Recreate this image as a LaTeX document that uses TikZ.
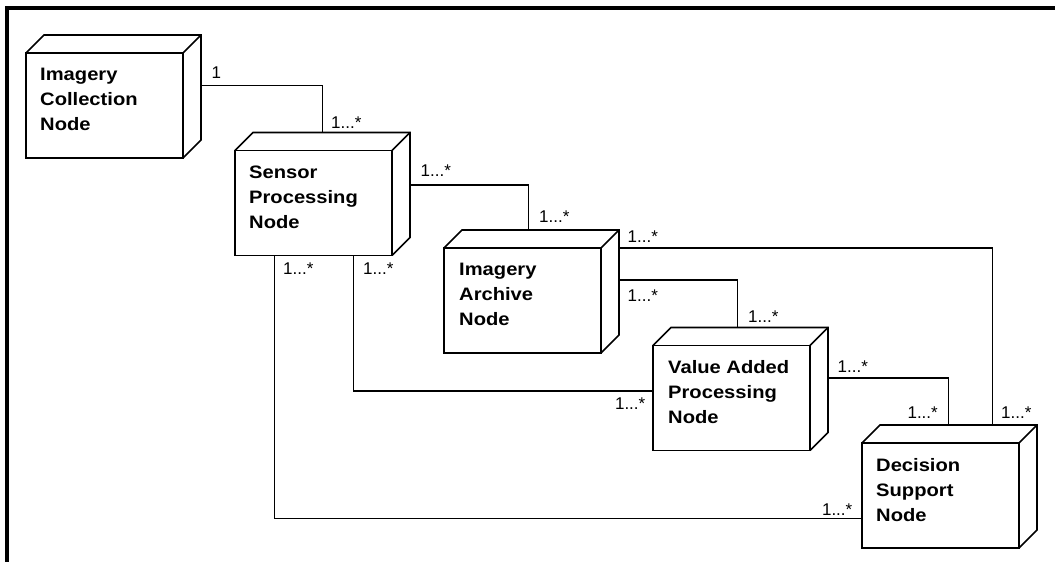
\documentclass[tikz,border=0pt]{standalone}
\usepackage{fontspec}
\setmainfont{Liberation Sans}
\newfontfamily\boxfont[FakeStretch=1.12]{Liberation Sans}
\usetikzlibrary{positioning}
% depth faces of a UML node box
\newcommand{\boxdepth}[1]{%
  \draw[boxline] (#1.north west) -- ++(18,-18) -- ([shift={(18,-18)}]#1.north east)
    -- ([shift={(18,-18)}]#1.south east) -- (#1.south east);
  \draw[boxline] (#1.north east) -- ++(18,-18);}
\tikzset{%
  % Specifications for style of nodes:
            boxline/.style = {line width=1.6pt, line join=miter},
            nodebox/.style = {rectangle, draw=black, boxline,
                           minimum width=157pt, minimum height=105pt,
                           inner sep=0pt, outer sep=0pt, anchor=north west},
            boxtext/.style = {inner sep=0pt, anchor=north west, align=left,
                           font=\boxfont\bfseries\fontsize{18}{25}\selectfont},
		mult/.style = {inner sep=0pt, font=\fontsize{17}{20}\selectfont},
		link/.style = {line width=1.4pt},
		frame/.style = {line width=4pt},
}
\begin{document}
\begin{tikzpicture}[x=1pt, y=-1pt]
  \useasboundingbox (0,0) rectangle (1055,562);
  \draw[frame] (7,562) -- (7,8) -- (1055,8);

  % Specification of nodes (position, etc.)
  \node (icn)  [nodebox] at (26,53) {};
  \node (spn)  [nodebox, below right=-7.5pt and 52pt of icn]  {};
  \node (ian)  [nodebox, below right=-7.5pt and 52pt of spn]  {};
  \node (vapn) [nodebox, below right=-7.5pt and 52pt of ian]  {};
  \node (dsn)  [nodebox, below right=-7.5pt and 52pt of vapn] {};
  \boxdepth{icn}
  \boxdepth{spn}
  \boxdepth{ian}
  \boxdepth{vapn}
  \boxdepth{dsn}

  \node (icn-txt)  [boxtext] at ([shift={(14,15)}]icn.north west)  {Imagery\\Collection\\Node};
  \node (spn-txt)  [boxtext] at ([shift={(14,15)}]spn.north west)  {Sensor\\Processing\\Node};
  \node (ian-txt)  [boxtext] at ([shift={(15,15)}]ian.north west)  {Imagery\\Archive\\Node};
  \node (vapn-txt) [boxtext] at ([shift={(15,15)}]vapn.north west) {Value Added\\Processing\\Node};
  \node (dsn-txt)  [boxtext] at ([shift={(14,15)}]dsn.north west)  {Decision\\Support\\Node};

  % Specification of lines between nodes specified above
  % with multiplicities at both ends
	\draw[link]	([shift={(18,-20)}]icn.east) node[mult, above right=6pt and 10pt] {1}
		-| ([shift={(9,-18)}]spn.north) node[mult, above right=3pt and 8pt] {1...*};
	\draw[link]	([shift={(18,-18)}]spn.east) node[mult, above right=8pt and 10pt] {1...*}
		-| ([shift={(6,-18)}]ian.north) node[mult, above right=7pt and 10pt] {1...*};
	\draw[link]	([xshift=18pt]ian.north east) node[mult, above right=5pt and 8pt] {1...*}
		-| ([shift={(52,-18)}]dsn.north) node[mult, above right=6pt and 8pt] {1...*};
	\draw[link]	([shift={(18,32)}]ian.north east) node[mult, below right=9pt and 8pt] {1...*}
		-| ([shift={(6,-18)}]vapn.north) node[mult, above right=4pt and 10pt] {1...*};
	\draw[link]	([xshift=40pt]spn.south) node[mult, below right=7pt and 9pt] {1...*}
		|- ([yshift=7pt]vapn.west) node[mult, below left=6pt and 7pt] {1...*};
	\draw[link]	([xshift=-39pt]spn.south) node[mult, below right=7pt and 8pt] {1...*}
		|- ([yshift=-23pt]dsn.west) node[mult, above left=2pt and 9pt] {1...*};
	\draw[link]	([shift={(18,-20)}]vapn.east) node[mult, above right=5pt and 9pt] {1...*}
		-| ([shift={(8,-18)}]dsn.north) node[mult, above left=6pt and 10pt] {1...*};
\end{tikzpicture}
\end{document}
